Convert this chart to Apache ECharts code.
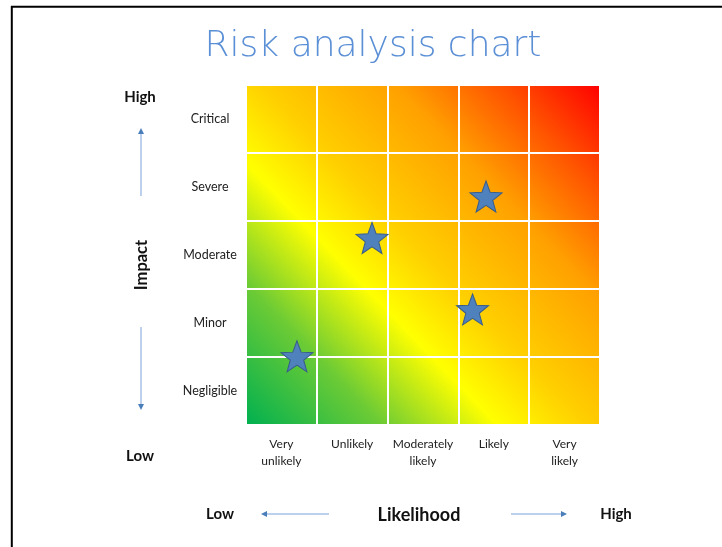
<!DOCTYPE html>
<html>
<head>
<meta charset="utf-8">
<script src="https://cdn.jsdelivr.net/npm/echarts@6/dist/echarts.min.js"></script>
<style>
  html, body { margin: 0; padding: 0; background: #fff; }
  #chart { width: 722px; height: 547px; }
</style>
</head>
<body>
<div id="chart"></div>
<script>
    // 横轴：可能性
    const likelihood = ['Very\nunlikely', 'Unlikely', 'Moderately\nlikely', 'Likely', 'Very\nlikely']
    // 纵轴：影响程度（从下往上）
    const impact = ['Negligible', 'Minor', 'Moderate', 'Severe', 'Critical']
    // 风险点位置（格子坐标 0-5）
    const riskX = [3.39, 1.78, 3.2, 0.72]
    const riskY = [3.36, 2.75, 1.7, 1.01]

    const starPath = 'path://M50 0 L62.3 33 L97.55 34.55 L70 56.5 L79.39 90.45 L50 71 L20.61 90.45 L30 56.5 L2.45 34.55 L37.7 33 Z'
    const labelFont = 'Lato, "Open Sans", sans-serif'
    const arrowLine = '#a7c2e8'
    const arrowHead = '#4a7ebb'

    function arrow(x1, y1, x2, y2) {
        // 箭头：线段 + 三角形头
        let dx = x2 - x1, dy = y2 - y1
        let len = Math.sqrt(dx * dx + dy * dy)
        let ux = dx / len, uy = dy / len
        let bx = x2 - ux * 6, by = y2 - uy * 6
        return [
            {type: 'line', shape: {x1: x1, y1: y1, x2: bx, y2: by}, style: {stroke: arrowLine, lineWidth: 1.5}},
            {
                type: 'polygon',
                shape: {points: [[x2, y2], [bx - uy * 3, by + ux * 3], [bx + uy * 3, by - ux * 3]]},
                style: {fill: arrowHead}
            }
        ]
    }

    function boldText(text, x, y, size, rotation) {
        return {
            type: 'text', x: x, y: y, rotation: rotation || 0,
            style: {
                text: text, fill: '#111', font: 'bold ' + size + 'px ' + labelFont,
                align: 'center', verticalAlign: 'middle'
            }
        }
    }

    const chart = echarts.init(document.getElementById('chart'))
    const option = {
        animation: false,
        title: {
            text: 'Risk analysis chart',
            left: 368,
            textAlign: 'center',
            top: 24,
            textStyle: {
                fontFamily: '"DejaVu Sans", sans-serif',
                fontWeight: 200,
                fontSize: 36,
                color: '#5b8fd6'
            }
        },
        grid: {
            left: 246, top: 85, width: 354, height: 340,
            show: true,
            borderWidth: 0,
            backgroundColor: {
                type: 'linear', x: 0, y: 1, x2: 1, y2: 0,
                colorStops: [
                    {offset: 0, color: '#00b050'},
                    {offset: 0.2, color: '#6ccb35'},
                    {offset: 0.37, color: '#ffff00'},
                    {offset: 0.5, color: '#ffd000'},
                    {offset: 0.7, color: '#ffa000'},
                    {offset: 0.85, color: '#ff5400'},
                    {offset: 1, color: '#ff0000'}
                ]
            }
        },
        xAxis: [
            {
                type: 'value', min: 0, max: 5, interval: 1,
                axisLine: {show: false}, axisTick: {show: false}, axisLabel: {show: false},
                splitLine: {show: true, lineStyle: {color: '#fff', width: 2}}
            },
            {
                type: 'category', data: likelihood, position: 'bottom',
                axisLine: {show: false}, axisTick: {show: false}, splitLine: {show: false},
                axisLabel: {
                    margin: 11, interval: 0, fontSize: 12, lineHeight: 17,
                    fontFamily: labelFont, color: '#222'
                }
            }
        ],
        yAxis: [
            {
                type: 'value', min: 0, max: 5, interval: 1,
                axisLine: {show: false}, axisTick: {show: false}, axisLabel: {show: false},
                splitLine: {show: true, lineStyle: {color: '#fff', width: 2}}
            },
            {
                type: 'category', data: impact, position: 'left',
                axisLine: {show: false}, axisTick: {show: false}, splitLine: {show: false},
                axisLabel: {
                    margin: 36, align: 'center', fontSize: 12.5,
                    fontFamily: labelFont, color: '#222'
                }
            }
        ],
        series: [
            {
                type: 'scatter',
                xAxisIndex: 0, yAxisIndex: 0,
                symbol: starPath,
                symbolSize: [32, 31],
                itemStyle: {color: '#4f81bd', borderColor: '#385d8a', borderWidth: 1, opacity: 1},
                data: riskX.map((x, i) => [x, riskY[i]])
            }
        ],
        graphic: [
            // 外框
            {type: 'line', shape: {x1: 11.8, y1: 6, x2: 11.8, y2: 547}, style: {stroke: '#000', lineWidth: 2}},
            {type: 'line', shape: {x1: 11, y1: 6.8, x2: 722, y2: 6.8}, style: {stroke: '#000', lineWidth: 2}},
            boldText('High', 140, 97, 15),
            boldText('Impact', 142, 265, 16.5, Math.PI / 2),
            boldText('Low', 140, 456, 15),
            boldText('Low', 220, 514, 15),
            boldText('Likelihood', 419, 515, 18),
            boldText('High', 616, 514, 15),
            ...arrow(141, 196, 141, 128),
            ...arrow(141, 327, 141, 410),
            ...arrow(329, 514, 261, 514),
            ...arrow(511, 514, 567, 514)
        ]
    }
    chart.setOption(option)
</script>
</body>
</html>
